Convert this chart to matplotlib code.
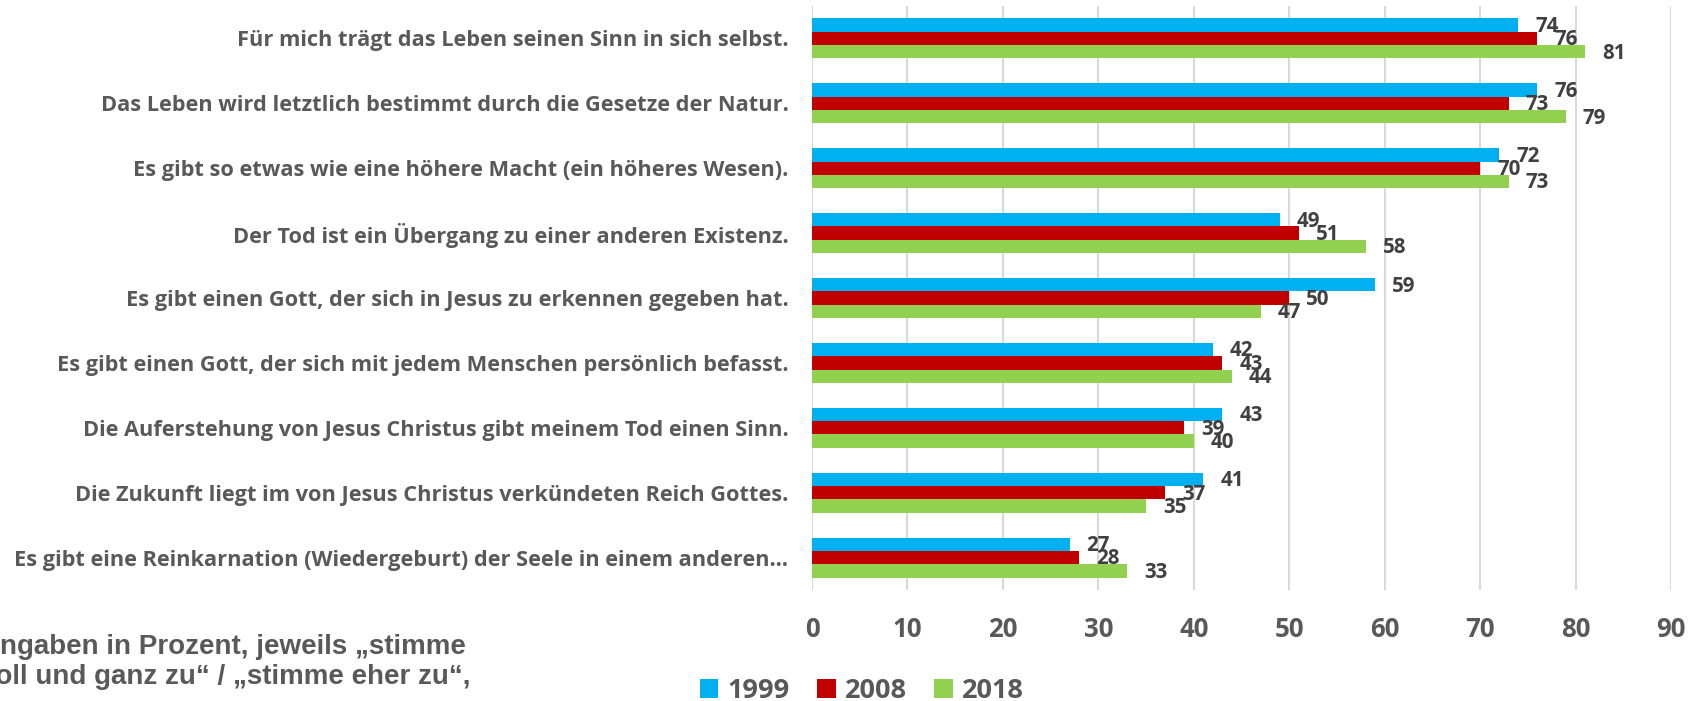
import matplotlib
matplotlib.use('Agg')
import matplotlib.pyplot as plt
import numpy as np

plt.rcParams['font.family'] = ['Open Sans', 'DejaVu Sans']

categories = [
    'Für mich trägt das Leben seinen Sinn in sich selbst.',
    'Das Leben wird letztlich bestimmt durch die Gesetze der Natur.',
    'Es gibt so etwas wie eine höhere Macht (ein höheres Wesen).',
    'Der Tod ist ein Übergang zu einer anderen Existenz.',
    'Es gibt einen Gott, der sich in Jesus zu erkennen gegeben hat.',
    'Es gibt einen Gott, der sich mit jedem Menschen persönlich befasst.',
    'Die Auferstehung von Jesus Christus gibt meinem Tod einen Sinn.',
    'Die Zukunft liegt im von Jesus Christus verkündeten Reich Gottes.',
    'Es gibt eine Reinkarnation (Wiedergeburt) der Seele in einem anderen…',
]
years = ['1999', '2008', '2018']
v1999 = [74, 76, 72, 49, 59, 42, 43, 41, 27]
v2008 = [76, 73, 70, 51, 50, 43, 39, 37, 28]
v2018 = [81, 79, 73, 58, 47, 44, 40, 35, 33]
colors = ['#00B0F0', '#C00000', '#92D050']
xticks = [0, 10, 20, 30, 40, 50, 60, 70, 80, 90]
note = 'Angaben in Prozent, jeweils „stimme\nvoll und ganz zu“ / „stimme eher zu“,'

W, H = 1700, 701
fig = plt.figure(figsize=(W / 100, H / 100), dpi=100)
ax = fig.add_axes([812 / W, 1 - 590 / H, (1671 - 812) / W, (590 - 6) / H])

y = np.arange(len(categories))
h = 0.2054
handles = []
for k, (vals, col) in enumerate(zip([v1999, v2008, v2018], colors)):
    bars = ax.barh(y + (k - 1) * h, vals, height=h, color=col, zorder=3)
    handles.append(bars)
    for b, v in zip(bars, vals):
        ax.annotate(str(v), (b.get_width(), b.get_y() + b.get_height() / 2),
                    xytext=(12.2, -1), textcoords='offset points',
                    ha='left', va='center', fontsize=14.8, fontweight='bold',
                    color='#404040', zorder=4)

ax.set_xlim(0, 90)
ax.set_ylim(len(categories) - 0.5, -0.5)
ax.set_xticks(xticks)
ax.set_xticklabels([str(t) for t in xticks], fontsize=18.6, fontweight='bold', color='#595959')
ax.set_yticks(y)
ax.set_yticklabels(categories, fontsize=15.7, fontweight='bold', color='#595959')
ax.tick_params(axis='x', length=0, pad=19)
ax.tick_params(axis='y', length=0, pad=17)
ax.grid(axis='x', color='#D9D9D9', linewidth=1.5, zorder=0)
for s in ax.spines.values():
    s.set_visible(False)

fig.legend(handles, years, loc='center left', bbox_to_anchor=(700 / W, 1 - 691 / H),
           ncol=3, frameon=False, prop={'size': 19.5, 'weight': 'bold'},
           labelcolor='#595959', handlelength=0.68, handleheight=0.68,
           handletextpad=0.35, columnspacing=1.0, borderpad=0, borderaxespad=0)

fig.text(-20.5 / W, 1 - 634 / H, note, ha='left', va='top', fontsize=20,
         fontweight='bold', color='#595959', family='Liberation Sans', linespacing=1.2)

fig.savefig('out.png', dpi=100)
